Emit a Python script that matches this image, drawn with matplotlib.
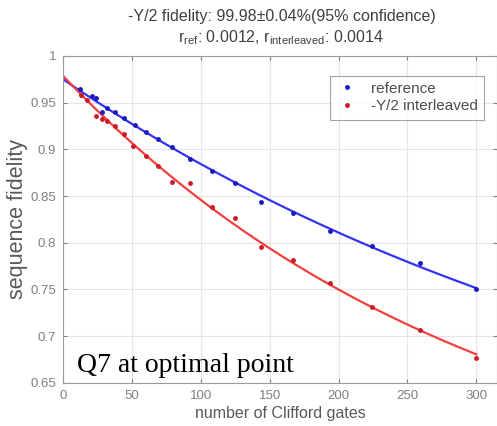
import numpy as np
import matplotlib
matplotlib.use("Agg")
import matplotlib.pyplot as plt

m_ref = [12, 21, 24, 28, 32, 38, 44, 52, 60, 69, 79, 92, 108, 125, 144, 167, 194, 224, 259, 300]
f_ref = [0.964, 0.957, 0.955, 0.940, 0.944, 0.940, 0.934, 0.926, 0.919, 0.911, 0.902, 0.890, 0.877, 0.864, 0.844, 0.832, 0.813, 0.797, 0.778, 0.751]

m_int = [13, 17, 24, 28, 32, 38, 44, 51, 60, 69, 79, 92, 108, 125, 144, 167, 194, 224, 259, 300]
f_int = [0.958, 0.953, 0.936, 0.932, 0.930, 0.925, 0.916, 0.904, 0.893, 0.882, 0.865, 0.864, 0.838, 0.827, 0.795, 0.782, 0.757, 0.731, 0.707, 0.677]

titulo1 = "-Y/2 fidelity: 99.98\u00b10.04%(95% confidence)"
titulo2 = "r$_{ref}$: 0.0012, r$_{interleaved}$: 0.0014"
nota = "Q7 at optimal point"

plt.rcParams['font.family'] = ['Liberation Sans', 'DejaVu Sans']
plt.rcParams['mathtext.default'] = 'regular'


def ajuste(m, f, b=0.5):
	# ajuste f = A*p**m + b  -> log(f-b) lineal en m
	m = np.array(m, dtype=float)
	f = np.array(f, dtype=float)
	pend, orden = np.polyfit(m, np.log(f - b), 1)
	return np.exp(orden), np.exp(pend), b


fig = plt.figure(figsize=(4.97, 4.26), dpi=100)
ax = fig.add_axes([0.127, 0.101, 0.873, 0.768])

x = np.linspace(0, 300, 301)
A, p, B = ajuste(m_ref, f_ref)
ax.plot(x, A * p**x + B, color=(0.2, 0.2, 0.95), lw=1.6, zorder=2)
A, p, B = ajuste(m_int, f_int)
ax.plot(x, A * p**x + B, color=(0.95, 0.25, 0.25), lw=1.6, zorder=2)

ax.plot(m_ref, f_ref, '.', color=(0.1, 0.1, 0.75), ms=5, label="reference", zorder=3)
ax.plot(m_int, f_int, '.', color=(0.8, 0.1, 0.15), ms=5, label="-Y/2 interleaved", zorder=3)

ax.set_xlim(0, 315)
ax.set_ylim(0.65, 1)
ax.set_xticks([0, 50, 100, 150, 200, 250, 300])
ax.set_yticks([0.65, 0.7, 0.75, 0.8, 0.85, 0.9, 0.95, 1])
ax.set_yticklabels(["0.65", "0.7", "0.75", "0.8", "0.85", "0.9", "0.95", "1"])
ax.grid(True, color=(0.9, 0.9, 0.9), lw=0.8)
ax.set_axisbelow(True)
ax.tick_params(direction='in', top=True, right=True, labelsize=9.5, colors=(0.5, 0.5, 0.5), length=3, pad=5)
for s in ax.spines.values():
	s.set_color((0.6, 0.6, 0.6))

ax.set_xlabel("number of Clifford gates", fontsize=11.5, color=(0.35, 0.35, 0.35), labelpad=3)
ax.set_ylabel("sequence fidelity", fontsize=15.5, color=(0.35, 0.35, 0.35), labelpad=2)

fig.text(282 / 497, 1 - 16 / 426, titulo1, ha='center', va='center', fontsize=11.5, color=(0.25, 0.25, 0.25))
fig.text(281 / 497, 1 - 38 / 426, titulo2, ha='center', va='center', fontsize=11.5, color=(0.25, 0.25, 0.25))

leg = ax.legend(loc='upper right', bbox_to_anchor=(0.988, 0.963), fontsize=11, frameon=True, fancybox=False,
	edgecolor=(0.55, 0.55, 0.55), handlelength=1.5, borderpad=0.4, labelspacing=0.25)
leg.get_frame().set_linewidth(0.8)
for t in leg.get_texts():
	t.set_color((0.3, 0.3, 0.3))

fig.text(77 / 497, 1 - 372 / 426, nota, family=['Liberation Serif', 'DejaVu Serif'], fontsize=20, color='black', va='baseline')

fig.savefig("out.png", dpi=100)
